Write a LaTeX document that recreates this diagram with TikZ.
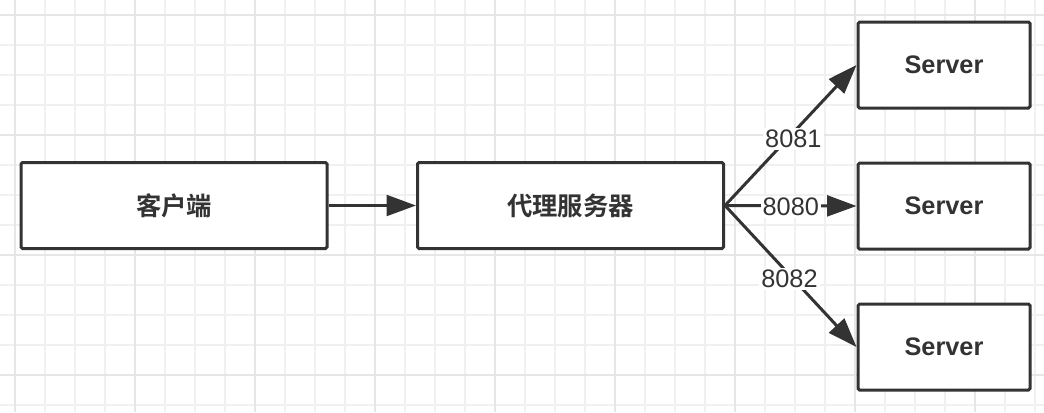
\documentclass[tikz,border=0pt]{standalone}
\usepackage{fontspec}
\setmainfont{Liberation Sans}
\newfontfamily\cjk{Noto Sans CJK SC}[BoldFont={* Bold}]
\usetikzlibrary{arrows.meta}
\definecolor{ink}{HTML}{333333}
\definecolor{gridminor}{HTML}{F0F0F0}
\definecolor{gridmajor}{HTML}{E6E6E6}
\tikzset{
  every picture/.style={line width=0.75pt},
  box/.style={draw=ink, line width=2.25pt, fill=white, rounded corners=1.2pt,
    text=ink, font=\fontsize{19}{21}\selectfont\bfseries, inner sep=0pt},
  wide box/.style={box, minimum width=306*0.75pt, minimum height=86*0.75pt},
  server box/.style={box, minimum width=172*0.75pt, minimum height=86*0.75pt},
  link/.style={draw=ink, line width=2.25pt, -{Triangle[length=22pt,width=15.5pt]}},
  port/.style={fill=white, text=ink, inner sep=1.5pt, font=\fontsize{19}{21}\selectfont}
}
\begin{document}
\begin{tikzpicture}[x=0.75pt,y=0.75pt,yscale=-1,xscale=1]
\useasboundingbox (0,0) rectangle (1044,412);

% background grid
\foreach \gx in {15,45,...,1035} \draw[gridminor, line width=1pt] (\gx,0) -- (\gx,412);
\foreach \gy in {15,45,...,405} \draw[gridminor, line width=1pt] (0,\gy) -- (1044,\gy);
\foreach \gx in {15,135,...,1035} \draw[gridmajor, line width=1pt] (\gx,0) -- (\gx,412);
\foreach \gy in {15,135,...,405} \draw[gridmajor, line width=1pt] (0,\gy) -- (1044,\gy);

% boxes
\node[wide box] (client) at (174,205.5) {\cjk\bfseries 客户端};
\node[wide box] (proxy) at (570.5,205.5) {\cjk\bfseries 代理服务器};
\node[server box] (serverA) at (944,65) {Server};
\node[server box] (serverB) at (944,206) {Server};
\node[server box] (serverC) at (944,347) {Server};

% connectors
\draw[link] (client) -- (proxy);
\draw[link] (proxy.east) -- (serverA.west) node[port, pos=0.52, yshift=-5pt] {8081};
\draw[link] (proxy.east) -- (serverB.west) node[port, pos=0.5, yshift=-1pt] {8080};
\draw[link] (proxy.east) -- (serverC.west) node[port, pos=0.49, yshift=-3pt] {8082};

\end{tikzpicture}
\end{document}
